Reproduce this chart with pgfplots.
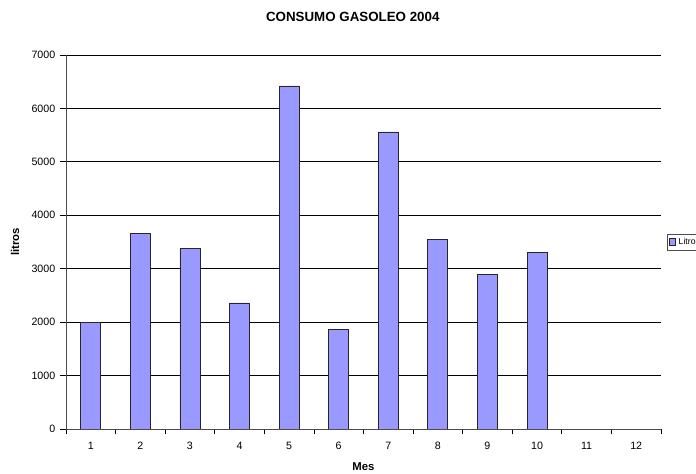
\documentclass[border=0pt]{standalone}
\usepackage{pgfplots}
\pgfplotsset{compat=1.18}
\usepackage{fontspec}
\setmainfont{Liberation Sans}
\definecolor{barblue}{HTML}{9999FF}
\begin{document}
\begin{tikzpicture}
\begin{axis}[
  scale only axis, width=446.25pt, height=280.5pt,
  xmin=0.5, xmax=12.5, ymin=0, ymax=7000,
  axis x line*=bottom, axis y line*=left,
  axis line style={-, draw=gray!60!black, line width=0.7pt},
  xtick={1,...,12},
  minor xtick={0.5,1.5,...,12.5},
  ytick={0,1000,...,7000},
  tick align=outside,
  major tick length=4.5pt, minor tick length=4pt,
  major x tick style={draw=none},
  every tick/.style={black, line width=0.6pt},
  ymajorgrids, major grid style={black, line width=0.6pt},
  /pgf/number format/assume math mode=true,
  /pgf/number format/1000 sep={},
  tick label style={font=\fontsize{8}{9.5}\selectfont},
  xticklabel style={yshift=-2pt},
  title={\textbf{CONSUMO GASOLEO 2004}},
  title style={at={(axis description cs:0.482,1.08)}, anchor=center, font=\fontsize{10}{12}\selectfont},
  xlabel={\textbf{Mes}},
  xlabel style={at={(axis description cs:0.5,-0.1)}, anchor=center, font=\fontsize{8.5}{10}\selectfont},
  ylabel={\textbf{litros}},
  ylabel style={at={(axis description cs:-0.0857,0.5)}, anchor=center, font=\fontsize{8.5}{10}\selectfont},
  ybar, bar width=15pt,
  legend style={at={(1,0.5)}, anchor=west, xshift=4.5pt, draw=gray!60!black, font=\fontsize{6.5}{7}\selectfont, inner sep=1pt, row sep=0pt},
  legend image code/.code={\draw[#1] (0pt,-2.5pt) rectangle (5pt,2.5pt);},
]
\addplot[fill=barblue, draw=black!85, line width=0.6pt, bar shift=0pt] coordinates {
  (1,2000) (2,3660) (3,3380) (4,2360) (5,6420) (6,1870)
  (7,5560) (8,3550) (9,2900) (10,3310)
};
\addlegendentry{Litros}
\end{axis}
\pgfresetboundingbox
\path[use as bounding box] (current axis.south west) ++(-49.5pt,-33.75pt) rectangle ++(522pt,355.5pt);
\end{tikzpicture}
\end{document}
